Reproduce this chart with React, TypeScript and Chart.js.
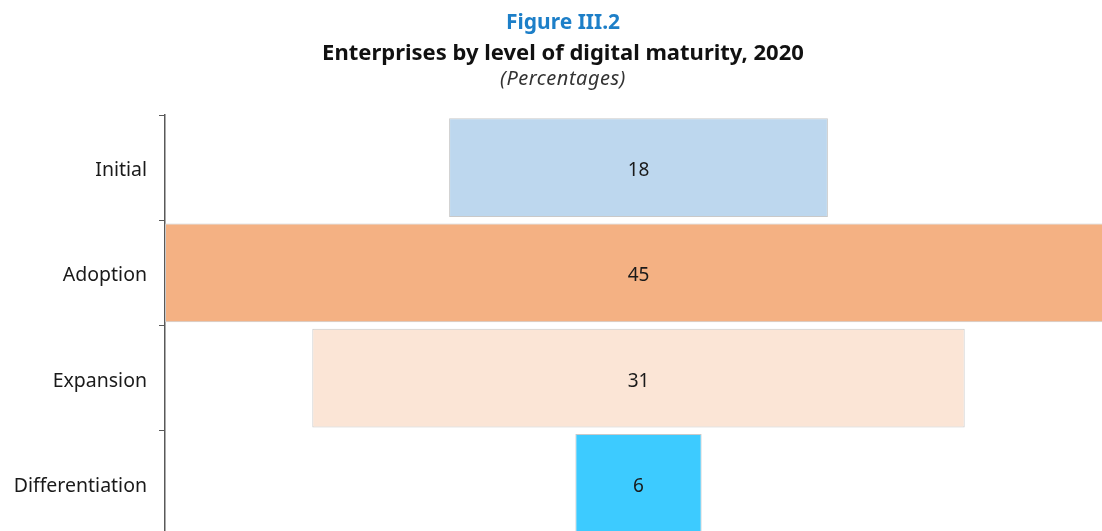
import React, { useEffect, useRef } from "react";
import { Chart, registerables } from "chart.js";

Chart.register(...registerables);

const categories = ["Initial", "Adoption", "Expansion", "Differentiation"];
const values = [18, 45, 31, 6];
const barColors = ["#BDD7EE", "#F4B183", "#FBE5D6", "#3DCBFF"];
const titleLine1 = "Figure III.2";
const titleLine2 = "Enterprises by level of digital maturity, 2020";
const titleLine3 = "(Percentages)";

const valueLabels = {
  id: "valueLabels",
  afterDatasetsDraw(chart: any) {
    const ctx = chart.ctx;
    const meta = chart.getDatasetMeta(0);
    ctx.save();
    ctx.font = "19px 'Noto Sans', sans-serif";
    ctx.fillStyle = "#1a1a1a";
    ctx.textAlign = "center";
    ctx.textBaseline = "middle";
    meta.data.forEach((el: any, i: number) => {
      const p = el.getCenterPoint();
      ctx.fillText(String(values[i]), p.x, p.y + 3);
    });
    ctx.restore();
  },
};

export default function App() {
  const ref = useRef<HTMLCanvasElement>(null);
  useEffect(() => {
    if (!ref.current) return;
    const chart = new Chart(ref.current, {
      type: "bar",
      data: {
        labels: categories,
        datasets: [
          {
            data: values.map((v) => [-v / 2, v / 2]) as any,
            backgroundColor: barColors,
            borderColor: "#c9c9c9",
            borderWidth: 1,
            borderSkipped: false,
            barPercentage: 0.94,
            categoryPercentage: 1,
          },
        ],
      },
      options: {
        indexAxis: "y",
        animation: false,
        responsive: false,
        maintainAspectRatio: false,
        layout: { padding: { top: 115, bottom: 24, left: 0, right: 14 } },
        plugins: {
          legend: { display: false },
          title: { display: false },
          tooltip: { enabled: false },
        },
        scales: {
          x: { display: false, min: -22.5, max: 22.5 },
          y: {
            afterFit(scale: any) {
              scale.width = 165;
            },
            grid: {
              drawOnChartArea: false,
              offset: true,
              color: "#595959",
              tickLength: 6,
              lineWidth: 1,
            },
            border: { color: "#595959", width: 1.5 },
            ticks: {
              color: "#1a1a1a",
              padding: 12,
              labelOffset: 3,
              font: { family: "'Noto Sans', sans-serif", size: 19.5 },
            },
          },
        },
      },
      plugins: [valueLabels],
    });
    return () => chart.destroy();
  }, []);

  const lineStyle: React.CSSProperties = {
    position: "absolute",
    left: 0,
    width: 1126,
    textAlign: "center",
    fontFamily: "'Noto Sans', sans-serif",
    whiteSpace: "nowrap",
  };

  return (
    <div
      style={{
        position: "fixed",
        left: 0,
        top: 0,
        width: 1102,
        height: 531,
        overflow: "hidden",
        background: "#fff",
      }}
    >
      <canvas
        ref={ref}
        width={1126}
        height={560}
        style={{ position: "absolute", left: 0, top: 0, width: 1126, height: 560 }}
      />
      <div style={{ ...lineStyle, top: 5, fontSize: 21, fontWeight: 700, color: "#1D7FC8", lineHeight: "32px" }}>
        {titleLine1}
      </div>
      <div style={{ ...lineStyle, top: 35, fontSize: 22, fontWeight: 700, color: "#111", lineHeight: "32px" }}>
        {titleLine2}
      </div>
      <div style={{ ...lineStyle, top: 63, fontSize: 20, fontStyle: "italic", color: "#333", lineHeight: "30px", letterSpacing: "0.5px" }}>
        {titleLine3}
      </div>
    </div>
  );
}
